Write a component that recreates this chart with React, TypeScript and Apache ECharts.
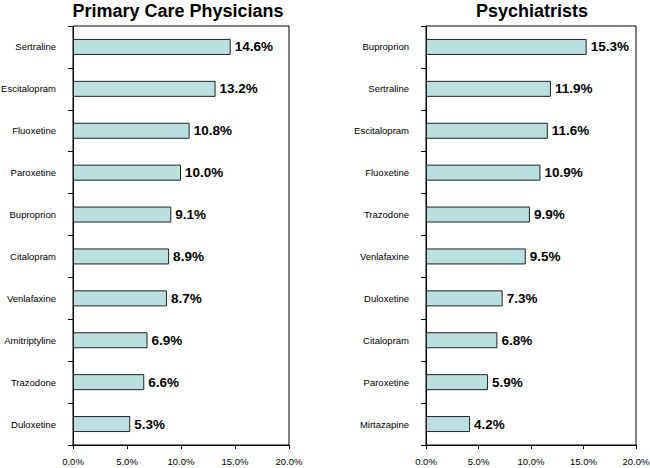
import React, { useEffect, useRef } from "react";
import * as echarts from "echarts";

const pcpCategories = ["Sertraline", "Escitalopram", "Fluoxetine", "Paroxetine", "Buproprion", "Citalopram", "Venlafaxine", "Amitriptyline", "Trazodone", "Duloxetine"];
const pcpValues = [14.6, 13.2, 10.8, 10.0, 9.1, 8.9, 8.7, 6.9, 6.6, 5.3];
const psyCategories = ["Buproprion", "Sertraline", "Escitalopram", "Fluoxetine", "Trazodone", "Venlafaxine", "Duloxetine", "Citalopram", "Paroxetine", "Mirtazapine"];
const psyValues = [15.3, 11.9, 11.6, 10.9, 9.9, 9.5, 7.3, 6.8, 5.9, 4.2];
const titles = ["Primary Care Physicians", "Psychiatrists"];

export default function App() {
  const ref = useRef<HTMLDivElement>(null);
  useEffect(() => {
    const chart = echarts.init(ref.current!, null, { renderer: "svg" });
    const font = "Liberation Sans, Arial, sans-serif";
    const grids = [
      { left: 73, top: 26, width: 216, height: 419 },
      { left: 426, top: 26, width: 210, height: 419 },
    ];
    const mkX = (i: number) => ({
      type: "value",
      gridIndex: i,
      min: 0,
      max: 20,
      interval: 5,
      axisLine: { show: true, lineStyle: { color: "#000" } },
      axisTick: { show: true, length: 4, lineStyle: { color: "#000" } },
      splitLine: { show: false },
      axisLabel: {
        formatter: (v: number) => v.toFixed(1) + "%",
        fontSize: 9.5,
        color: "#000",
        fontFamily: font,
        margin: 11,
      },
    });
    const mkY = (i: number, cats: string[]) => ({
      type: "category",
      gridIndex: i,
      data: cats,
      inverse: true,
      axisLine: { show: true, lineStyle: { color: "#000" } },
      axisTick: { show: true, length: 5, lineStyle: { color: "#000" } },
      axisLabel: { fontSize: 9.5, color: "#000", fontFamily: font, margin: 17 },
    });
    const mkSeries = (i: number, vals: number[]) => ({
      type: "bar",
      xAxisIndex: i,
      yAxisIndex: i,
      data: vals,
      barWidth: 16,
      itemStyle: { color: "#b9dfe0", borderColor: "#222", borderWidth: 1 },
      label: {
        show: true,
        position: "right",
        distance: 4,
        formatter: (p: any) => p.value.toFixed(1) + "%",
        fontSize: 13.5,
        fontWeight: "bold",
        color: "#000",
        fontFamily: font,
      },
    });
    chart.setOption({
      animation: false,
      backgroundColor: "#fff",
      title: [
        {
          text: titles[0],
          left: 173,
          top: -3,
          textAlign: "center",
          textStyle: { fontSize: 18, fontWeight: "bold", color: "#000", fontFamily: font },
        },
        {
          text: titles[1],
          left: 527,
          top: -3,
          textAlign: "center",
          textStyle: { fontSize: 18, fontWeight: "bold", color: "#000", fontFamily: font },
        },
      ],
      grid: grids.map((g) => ({
        ...g,
        show: true,
        borderColor: "#000",
        borderWidth: 1,
        backgroundColor: "transparent",
        containLabel: false,
        outerBoundsMode: "none",
      })),
      xAxis: [mkX(0), mkX(1)],
      yAxis: [mkY(0, pcpCategories), mkY(1, psyCategories)],
      series: [mkSeries(0, pcpValues), mkSeries(1, psyValues)],
    });
    return () => chart.dispose();
  }, []);
  return <div ref={ref} style={{ position: "absolute", left: 0, top: 0, width: 650, height: 468 }} />;
}
